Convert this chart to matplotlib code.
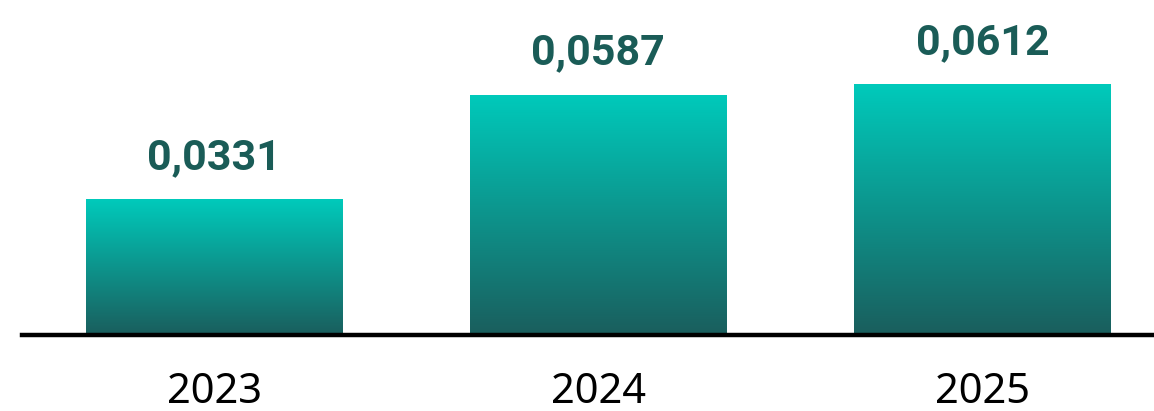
import numpy as np
import matplotlib.pyplot as plt
from matplotlib.colors import LinearSegmentedColormap

years = ["2023", "2024", "2025"]
values = [0.0331, 0.0587, 0.0612]
value_labels = ["0,0331", "0,0587", "0,0612"]

W, H, DPI = 1154, 411, 100
fig = plt.figure(figsize=(W / DPI, H / DPI), dpi=DPI)
ax = fig.add_axes([22 / W, (H - 335) / H, (W - 22) / W, 335 / H])

x = np.arange(len(years))
bars = ax.bar(x, values, width=0.669, color="none", edgecolor="none")

# vertical gradient inside each bar
cmap = LinearSegmentedColormap.from_list("teal", ["#1a5e5d", "#00cabb"])
grad = np.linspace(0, 1, 256).reshape(-1, 1)
for b in bars:
    x0, w, h = b.get_x(), b.get_width(), b.get_height()
    im = ax.imshow(grad, cmap=cmap, aspect="auto", origin="lower",
                   extent=[x0, x0 + w, 0, h], zorder=2)
    im.set_clip_path(b)

# value labels above bars, year labels below the baseline
for xi, v, lab, yr in zip(x, values, value_labels, years):
    ax.annotate(lab, (xi, v), xytext=(0, 22), textcoords="offset points",
                ha="center", va="baseline", fontsize=31, fontweight="bold",
                color="#1a5c57", family="Roboto")
    ax.annotate(yr, (xi, 0), xycoords=("data", "axes fraction"),
                xytext=(0, -49), textcoords="offset points",
                ha="center", va="baseline", fontsize=30, color="black",
                family="Noto Sans", annotation_clip=False)

ax.set_xlim(-0.501, 2.447)
ax.set_ylim(0, 0.0818)
ax.axhline(0, color="black", lw=3.2, zorder=3, clip_on=False)

for s in ax.spines.values():
    s.set_visible(False)
ax.set_xticks([])
ax.set_yticks([])

fig.savefig("out.png", dpi=DPI)
